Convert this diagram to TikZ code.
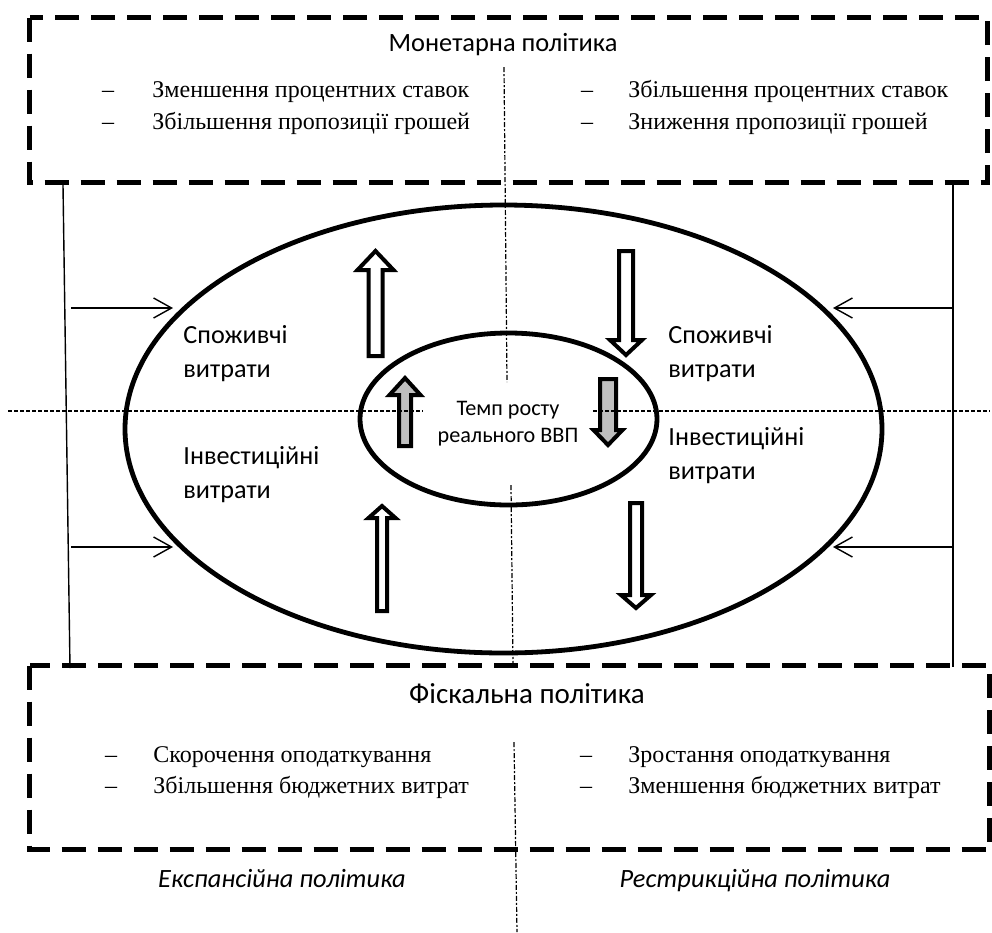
\documentclass[tikz,border=0pt]{standalone}
\usepackage{fontspec}
\setmainfont{Liberation Serif}
\setsansfont{Carlito}
\usetikzlibrary{shapes.geometric,arrows.meta}

\tikzset{
	polbox/.style={line width=2.5pt, dash pattern=on 12pt off 6pt},
	axisline/.style={line width=0.6pt, dash pattern=on 2pt off 1pt},
	midline/.style={line width=0.6pt, dash pattern=on 2.5pt off 1pt on 1pt off 1pt},
	oval/.style={draw, ellipse, line width=2.4pt, inner sep=0pt},
	thinarrow/.style={line width=0.7pt, -{Straight Barb[length=9pt,width=10pt]}},
	item/.style={font=\fontsize{12}{14}\selectfont, anchor=base west, inner sep=0pt},
	dashitem/.style={font=\fontsize{12}{14}\selectfont, anchor=base, inner sep=0pt},
	lbl/.style={font=\sffamily\fontsize{13.1}{17}\selectfont, align=left, anchor=base west, inner sep=0pt},
	boxtitle/.style={font=\sffamily\fontsize{13.2}{15}\selectfont, anchor=base, inner sep=0pt},
	kind/.style={font=\sffamily\itshape\fontsize{13.2}{15}\selectfont, anchor=base, inner sep=0pt}
}

% block arrow: x, tail y, head base y, tip y, half shaft, half head, fill
\newcommand{\fatarrow}[7]{%
	\filldraw[fill=#7, line width=2pt, line join=miter]
		(#1-#5,#2) -- (#1-#5,#3) -- (#1-#6,#3) -- (#1,#4) -- (#1+#6,#3) -- (#1+#5,#3) -- (#1+#5,#2) -- cycle;}

\begin{document}
\begin{tikzpicture}[x=0.5pt, y=-0.5pt]
	\useasboundingbox (0,0) rectangle (992,933);

	% policy boxes
	\draw[polbox] (29.5,17.5) rectangle (987,182.5);
	\draw[polbox] (29.5,665.5) rectangle (989.5,849.5);

	% ovals
	\node[oval, minimum width=378.5pt, minimum height=224pt] (outer) at (503.5,429) {};
	\node[oval, minimum width=148.5pt, minimum height=86pt] (inner) at (508.5,419) {};

	% monetary policy
	\node[boxtitle] (montitle) at (503,51) {Монетарна політика};
	\node[dashitem] (md1) at (108,97) {--};
	\node[dashitem] (md2) at (108,129) {--};
	\node[item] (ml1) at (152,97) {Зменшення процентних ставок};
	\node[item] (ml2) at (152,129) {Збільшення пропозиції грошей};
	\node[dashitem] (md3) at (587,97) {--};
	\node[dashitem] (md4) at (587,129) {--};
	\node[item] (mr1) at (628,97) {Збільшення процентних ставок};
	\node[item] (mr2) at (628,129) {Зниження пропозиції грошей};

	% fiscal policy
	\node[boxtitle, font=\sffamily\fontsize{14.5}{16}\selectfont] (fistitle) at (527,703) {Фіскальна політика};
	\node[dashitem] (fd1) at (111,762) {--};
	\node[dashitem] (fd2) at (111,793) {--};
	\node[item] (fl1) at (153,762) {Скорочення оподаткування};
	\node[item] (fl2) at (153,793) {Збільшення бюджетних витрат};
	\node[dashitem] (fd3) at (586,762) {--};
	\node[dashitem] (fd4) at (586,793) {--};
	\node[item] (fr1) at (628,762) {Зростання оподаткування};
	\node[item] (fr2) at (628,793) {Зменшення бюджетних витрат};

	% spending labels (base = last line)
	\node[lbl] (consl) at (183,377) {Споживчі\\витрати};
	\node[lbl] (invl) at (183,498) {Інвестиційні\\витрати};
	\node[lbl] (consr) at (668,377) {Споживчі\\витрати};
	\node[lbl] (invr) at (668,479) {Інвестиційні\\витрати};
	\node[font=\sffamily\fontsize{11.1}{13.5}\selectfont, align=center, anchor=base, inner sep=0pt] (gdp) at (508,442) {Темп росту\\реального ВВП};

	% kinds of policy
	\node[kind] (expans) at (282,887) {Експансійна політика};
	\node[kind] (restr) at (755,887) {Рестрикційна політика};

	% block arrows
	\fatarrow{375.5}{356}{270}{251}{7}{18}{white}
	\fatarrow{626}{251}{340}{355}{7}{16}{white}
	\fatarrow{405}{446}{395}{378}{6}{15.5}{black!25}
	\fatarrow{608}{379}{430}{445}{8}{14.5}{black!25}
	\fatarrow{382}{611}{518}{506}{5}{13.5}{white}
	\fatarrow{636}{503}{595}{608}{6}{15}{white}

	% side lines
	\coordinate (ltop) at (63,185);
	\coordinate (lbot) at (70,668);
	\coordinate (rtop) at (953,185);
	\coordinate (rbot) at (953,667);
	\draw[line width=0.7pt] (ltop) -- (lbot);
	\draw[line width=0.7pt] (rtop) -- (rbot);
	\coordinate (la1) at (71,308);
	\coordinate (la2) at (71,547);
	\coordinate (ra1) at (953,308);
	\coordinate (ra2) at (953,547);
	\draw[thinarrow] (la1) -- (173,308);
	\draw[thinarrow] (la2) -- (173,547);
	\draw[thinarrow] (ra1) -- (833,308);
	\draw[thinarrow] (ra2) -- (833,547);

	% dividing lines
	\draw[axisline] (8,411) -- (423,411);
	\draw[axisline] (593,411) -- (990,411);
	\draw[midline] (504,67) -- (507,382);
	\draw[midline] (511,485) -- (513,665);
	\draw[midline] (514,742) -- (517,932);
\end{tikzpicture}
\end{document}
